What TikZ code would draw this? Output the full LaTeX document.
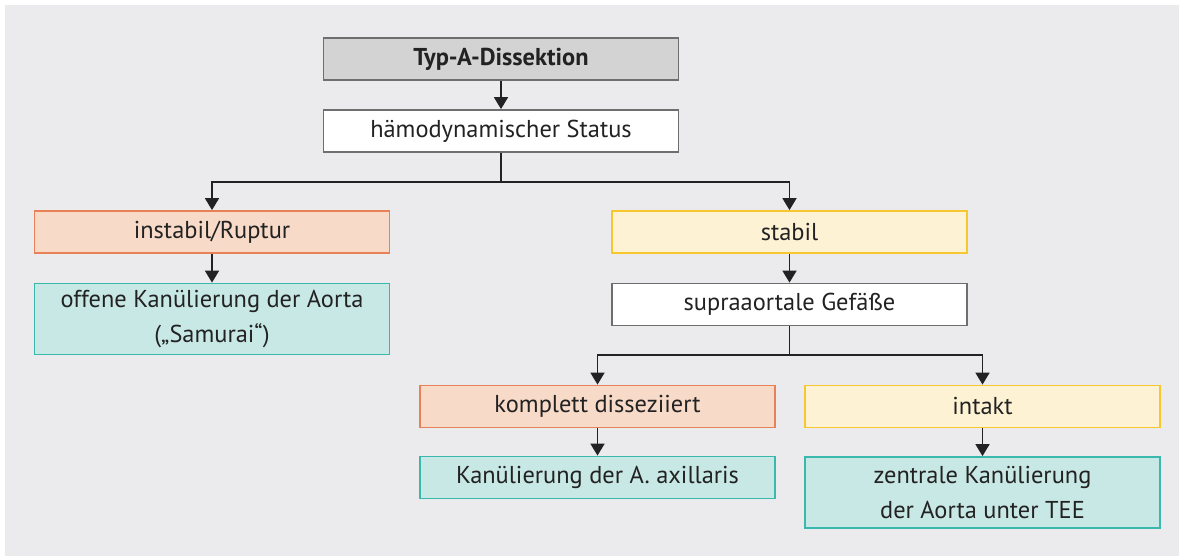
\documentclass[tikz,border=0pt]{standalone}
\usepackage{fontspec}
\setmainfont{PT Sans}
\usetikzlibrary{arrows.meta}
\definecolor{panel}{HTML}{EBEBED}
\definecolor{topfill}{HTML}{D3D3D3}
\definecolor{grayline}{HTML}{6E6E6E}
\definecolor{peachfill}{HTML}{F7DAC8}
\definecolor{peachline}{HTML}{E98158}
\definecolor{yelfill}{HTML}{FDF2D4}
\definecolor{yelline}{HTML}{F8C72E}
\definecolor{tealfill}{HTML}{C8E8E5}
\definecolor{tealline}{HTML}{3AB8AE}
\definecolor{ink}{HTML}{222222}
\tikzset{
  box/.style={draw, line width=0.9pt, minimum width=177.5pt, inner sep=0pt, align=center,
    font=\fontsize{12.2}{17.2}\selectfont, text=ink},
  single/.style={minimum height=21pt},
  double/.style={minimum height=35.5pt},
  graybox/.style={box, fill=topfill, draw=grayline},
  whitebox/.style={box, fill=white, draw=grayline},
  peachbox/.style={box, fill=peachfill, draw=peachline},
  yelbox/.style={box, fill=yelfill, draw=yelline},
  tealbox/.style={box, fill=tealfill, draw=tealline},
  conn/.style={draw=ink, line width=0.9pt, -{Triangle[width=7pt,length=6pt]}},
  plainconn/.style={draw=ink, line width=0.9pt}
}
\begin{document}
\begin{tikzpicture}[x=0.5pt,y=-0.5pt]
\useasboundingbox (0,0) rectangle (1179,558);
\fill[panel] (5,5) rectangle (1179,556);
\node[graybox,single] (typ) at (501,59) {\textbf{Typ-A-Dissektion}};
\node[whitebox,single] (haem) at (501,131) {hämodynamischer Status};
\node[peachbox,single] (inst) at (212,232) {instabil/Ruptur};
\node[tealbox,double] (offen) at (212,319) {offene Kanülierung der Aorta\\(„Samurai“)};
\node[yelbox,single] (stab) at (789.5,232) {stabil};
\node[whitebox,single] (supra) at (789.5,304.5) {supraaortale Gefäße};
\node[peachbox,single] (kompl) at (597.5,406.5) {komplett disseziiert};
\node[tealbox,single] (axil) at (597.5,477.5) {Kanülierung der A. axillaris};
\node[yelbox,single] (intakt) at (982.5,406.5) {intakt};
\node[tealbox,double] (zentr) at (982.5,492.5) {zentrale Kanülierung\\der Aorta unter TEE};
\coordinate (j1) at (501,182);
\coordinate (j2) at (789.5,355);
\draw[conn] (typ) -- (haem);
\draw[plainconn] (haem) -- (j1);
\draw[conn] (j1) -| (inst);
\draw[conn] (j1) -| (stab);
\draw[conn] (inst) -- (offen);
\draw[conn] (stab) -- (supra);
\draw[plainconn] (supra) -- (j2);
\draw[conn] (j2) -| (kompl);
\draw[conn] (j2) -| (intakt);
\draw[conn] (kompl) -- (axil);
\draw[conn] (intakt) -- (zentr);
\end{tikzpicture}
\end{document}
